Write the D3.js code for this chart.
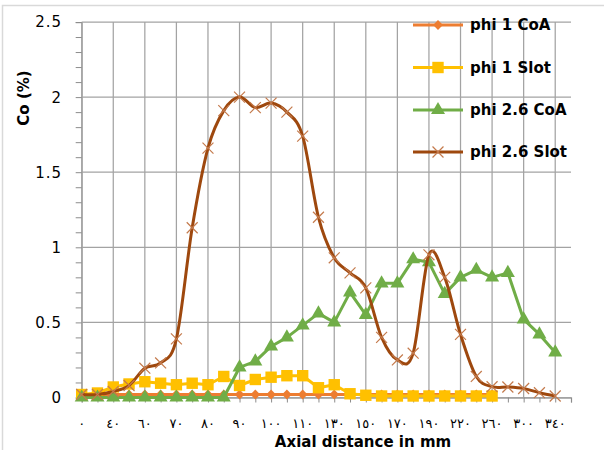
<!DOCTYPE html>
<html>
<head>
<meta charset="utf-8">
<script src="https://cdn.jsdelivr.net/npm/d3@7"></script>
<style>
  html, body { margin: 0; padding: 0; background: #fff; }
  svg { display: block; font-family: "DejaVu Sans", sans-serif; }
</style>
</head>
<body>
<div id="chart"></div>
<script>
// ---- Data
const seriesNames = ['phi 1 CoA', 'phi 1 Slot', 'phi 2.6 CoA', 'phi 2.6 Slot'];
const seriesColors = ['#ED7D31', '#FFC000', '#70AD47', '#9E480E'];
const categoryCount = 32;
const xTickLabels = ['٠', '٤٠', '٦٠', '٧٠', '٨٠', '٩٠', '١٠٠', '١١٠', '١٣٠', '١٥٠', '١٧٠', '١٩٠', '٢٢٠', '٢٦٠', '٣٠٠', '٣٤٠'];
const yTicks = [0, 0.5, 1, 1.5, 2, 2.5];

const phi1CoA = [0.02, 0.02, 0.02, 0.02, 0.02, 0.02, 0.02, 0.02, 0.02, 0.02, 0.02, 0.02, 0.02, 0.02,
  0.02, 0.02, 0.02, 0.02, 0.02, 0.02, 0.02, 0.02, 0.02, 0.02, 0.02, 0.02, 0.02];
const phi1Slot = [0.02, 0.03, 0.07, 0.09, 0.105, 0.095, 0.085, 0.095, 0.085, 0.14, 0.08, 0.12, 0.135, 0.145,
  0.145, 0.065, 0.085, 0.025, 0.015, 0.01, 0.01, 0.01, 0.01, 0.01, 0.01, 0.01, 0.01];
const phi26CoA = [0, 0, 0, 0, 0, 0, 0, 0, 0, 0, 0.2, 0.24, 0.34, 0.4, 0.48, 0.56, 0.5, 0.7, 0.55, 0.76,
  0.76, 0.92, 0.9, 0.69, 0.8, 0.85, 0.8, 0.83, 0.52, 0.42, 0.3];
const phi26Slot = [0.02, 0.02, 0.04, 0.08, 0.195, 0.23, 0.39, 1.13, 1.66, 1.91, 2.0, 1.93, 1.96, 1.9, 1.74,
  1.2, 0.93, 0.83, 0.73, 0.4, 0.25, 0.295, 0.95, 0.8, 0.42, 0.14, 0.072, 0.07, 0.06, 0.032, 0.01];

const seriesValues = [phi1CoA, phi1Slot, phi26CoA, phi26Slot];

// ---- Layout
const width = 604, height = 450;
const plot = { left: 81.7, right: 571, top: 22, bottom: 397.5 };

const svg = d3.select('#chart').append('svg')
  .attr('width', width)
  .attr('height', height);

// Chart area border (only top/left visible in the crop)
svg.append('path')
  .attr('d', `M2.5,${height}V5.5H${width}`)
  .style('fill', 'none')
  .style('stroke', '#d9d9d9')
  .style('stroke-width', 1.5);

// ---- Scales
const x = d3.scalePoint()
  .domain(d3.range(categoryCount))
  .range([plot.left, plot.right]);

const y = d3.scaleLinear()
  .domain([0, 2.5])
  .range([plot.bottom, plot.top]);

// ---- Gridlines
const grid = svg.append('g').attr('class', 'grid')
  .style('stroke', '#a3a3a3')
  .style('stroke-width', 1.25);

grid.selectAll('.hgrid')
  .data(yTicks)
  .join('line')
  .attr('class', 'hgrid')
  .attr('x1', plot.left).attr('x2', plot.right)
  .attr('y1', d => y(d)).attr('y2', d => y(d));

grid.selectAll('.vgrid')
  .data(d3.range(0, categoryCount, 2))
  .join('line')
  .attr('class', 'vgrid')
  .attr('x1', d => x(d)).attr('x2', d => x(d))
  .attr('y1', plot.top).attr('y2', plot.bottom);

// ---- Y axis (major ticks every 0.5, minor every 0.1)
const yAxis = svg.append('g')
  .attr('transform', `translate(${plot.left},0)`)
  .call(d3.axisLeft(y)
    .tickValues(d3.range(0, 2.501, 0.1))
    .tickSize(6)
    .tickFormat(''));
yAxis.select('.domain').style('stroke', '#a3a3a3').style('stroke-width', 1.25);
yAxis.selectAll('.tick line').style('stroke', '#8c8c8c');

svg.append('g').selectAll('text')
  .data(yTicks)
  .join('text')
  .attr('x', 62)
  .attr('y', d => y(d))
  .attr('dy', '0.36em')
  .attr('text-anchor', 'end')
  .style('font-size', '15px')
  .style('letter-spacing', '1px')
  .style('fill', '#000')
  .text(d => d3.format('~g')(d));

// ---- X axis (tick at every category, label on every second)
const xAxis = svg.append('g')
  .attr('transform', `translate(0,${plot.bottom})`)
  .call(d3.axisBottom(x).tickSize(5).tickFormat(''));
xAxis.select('.domain').style('stroke', '#a3a3a3').style('stroke-width', 1.25);
xAxis.selectAll('.tick line').style('stroke', '#8c8c8c');

svg.append('g').selectAll('text')
  .data(xTickLabels)
  .join('text')
  .attr('x', (d, i) => x(i * 2))
  .attr('y', 428)
  .attr('text-anchor', 'middle')
  .style('font-size', '13px')
  .style('fill', '#000')
  .text(d => d);

// ---- Axis titles
svg.append('text')
  .attr('transform', 'translate(29,98) rotate(-90)')
  .attr('text-anchor', 'middle')
  .style('font-size', '15px')
  .style('font-weight', 'bold')
  .text('Co (%)');

svg.append('text')
  .attr('x', 363)
  .attr('y', 447)
  .attr('text-anchor', 'middle')
  .style('font-size', '15px')
  .style('font-weight', 'bold')
  .text('Axial distance in mm');

// ---- Markers
const markerDefs = [
  { type: d3.symbolSquare, size: 48, rotate: 45, fill: true },
  { type: d3.symbolSquare, size: 130, rotate: 0, fill: true },
  { type: d3.symbolTriangle, size: 85, rotate: 0, fill: true },
  { type: d3.symbolTimes, size: 80, rotate: 0, fill: false }
];

function drawMarker(g, s, cx, cy) {
  const m = markerDefs[s];
  const p = g.append('path')
    .attr('d', d3.symbol(m.type, m.size)())
    .attr('transform', `translate(${cx},${cy}) rotate(${m.rotate})`);
  if (m.fill) {
    p.style('fill', seriesColors[s]).style('stroke', 'none');
  } else {
    p.style('fill', 'none').style('stroke', '#c47a4c').style('stroke-width', 1.2);
  }
}

// ---- Series (drawn in Excel order: later series on top)
const line = d3.line()
  .x((d, i) => x(i))
  .y(d => y(d));

const smooth = d3.line()
  .x((d, i) => x(i))
  .y(d => y(d))
  .curve(d3.curveCardinal.tension(0));

seriesValues.forEach((values, s) => {
  const g = svg.append('g').attr('class', 'series');
  g.append('path')
    .datum(values)
    .attr('d', s === 3 ? smooth : line)
    .style('fill', 'none')
    .style('stroke', seriesColors[s])
    .style('stroke-width', 3)
    .style('stroke-linejoin', 'round');
  values.forEach((v, i) => drawMarker(g, s, x(i), y(v)));
});

// ---- Legend (inside the plot, no background)
const legendY = [25, 67.5, 110, 152];
const legend = svg.append('g').attr('class', 'legend');
seriesNames.forEach((name, s) => {
  const g = legend.append('g');
  g.append('line')
    .attr('x1', 413).attr('x2', 463)
    .attr('y1', legendY[s]).attr('y2', legendY[s])
    .style('stroke', seriesColors[s])
    .style('stroke-width', 3);
  drawMarker(g, s, 438, legendY[s]);
  g.append('text')
    .attr('x', 470)
    .attr('y', legendY[s])
    .attr('dy', '0.36em')
    .style('font-size', '15px')
    .style('font-weight', 'bold')
    .style('fill', '#000')
    .text(name);
});
</script>
</body>
</html>
